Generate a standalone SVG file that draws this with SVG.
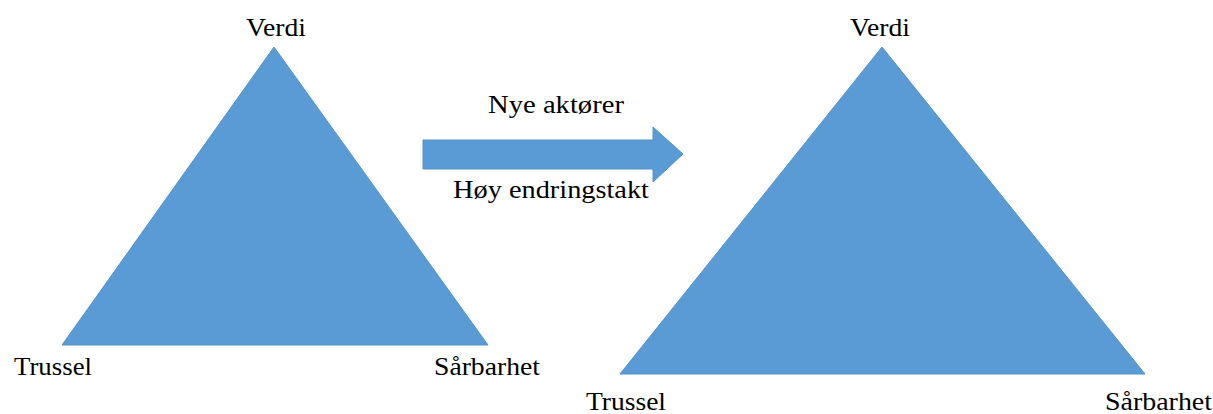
<svg xmlns="http://www.w3.org/2000/svg" width="1213" height="414" viewBox="0 0 1213 414" font-family="Liberation Serif, serif">
  <style>
    .shape { fill: #5B9BD5; stroke: #5592CA; stroke-width: 1; }
    .lbl { font-family: 'Liberation Serif', serif; font-size: 25px; fill: #000; }
  </style>
  <rect width="1213" height="414" fill="#fff"/>

  <!-- Before: value / threat / vulnerability triangle -->
  <g id="triangle-before">
    <polygon class="shape" points="274,47 488,345 62,345"/>
    <text class="lbl" x="246" y="36" textLength="60" lengthAdjust="spacingAndGlyphs">Verdi</text>
    <text class="lbl" x="14" y="375" textLength="78" lengthAdjust="spacingAndGlyphs">Trussel</text>
    <text class="lbl" x="434" y="375" textLength="106" lengthAdjust="spacingAndGlyphs">Sårbarhet</text>
  </g>

  <!-- Transition arrow -->
  <g id="connectors">
    <polygon class="shape" points="423,140 653,140 653,127 683,154 653,182 653,169 423,169"/>
    <text class="lbl" x="488" y="113" textLength="136" lengthAdjust="spacingAndGlyphs">Nye aktører</text>
    <text class="lbl" x="453" y="198" textLength="196" lengthAdjust="spacingAndGlyphs">Høy endringstakt</text>
  </g>

  <!-- After: enlarged triangle -->
  <g id="triangle-after">
    <polygon class="shape" points="882,47 1145,374 620,374"/>
    <text class="lbl" x="850" y="36" textLength="60" lengthAdjust="spacingAndGlyphs">Verdi</text>
    <text class="lbl" x="586" y="410" textLength="80" lengthAdjust="spacingAndGlyphs">Trussel</text>
    <text class="lbl" x="1105" y="410" textLength="107" lengthAdjust="spacingAndGlyphs">Sårbarhet</text>
  </g>
</svg>
